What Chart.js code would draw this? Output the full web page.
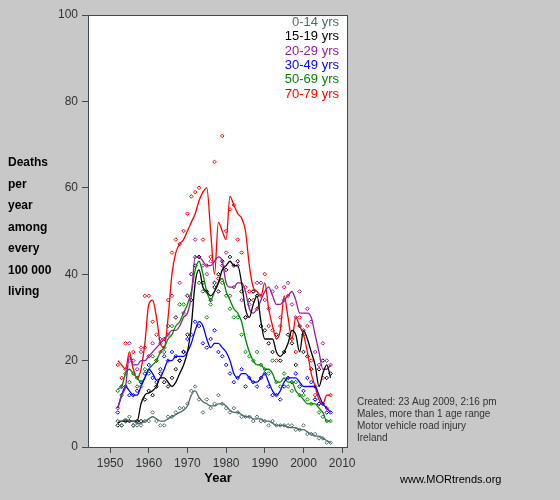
<!DOCTYPE html><html><head><script src="https://cdn.jsdelivr.net/npm/chart.js@4"></script>
<style>html,body{margin:0;background:#c8c8c8}#w{width:560px;height:500px}</style></head><body><div id="w"><canvas id="c"></canvas></div>
<script>
const years=[];for(let y=1952;y<=2007;y++)years.push(y);
const labels=['0-14 yrs','15-19 yrs','20-29 yrs','30-49 yrs','50-69 yrs','70-79 yrs'];
const colors=['#4f6b6b','#000000','#9a1a9a','#0000ff','#008800','#ff0000'];
const line0_14=[6,6,6.5,6,6,5.5,5.5,6,6.5,7,6.5,6,6,6.5,7,7.5,8,8.5,9.5,12,13,11.5,10.5,10,9.5,9.5,10,10,9.5,8.5,8,8,7.5,7,7,6.5,6.5,6.5,6,6,5.5,5,5,5,4.5,4.5,4.5,4,4,3.5,3,2.5,2.5,2,1.5,1];
const line15_19=[5.5,6,6,6,6,6,10,12,12.5,13,14,16,16,15,14,15,17,19,22,28,38,41,37,36,35,36,38,41,42,43,42,42,38,32,30,33,35,29,25,25,25,22,21,22,24,27,26,22,27,25,22,19,14,17,19,16];
const line20_29=[9,12,14,21,19,19,20,20,21,22,23,24,25,26,27,27,28,30,31,35,44,44,43,42,42,43,44,43,38,37,37,38,38,36,32,31,32,34,36,37,35,33,33,34,35,36,34,31,31,31,30,26,22,18,18,19];
const line30_49=[9,12,14,13,12,12,14,16,18,17,15.5,16,18,20,20,21,21,21,22,24,27,29,28,25,23,24,24,23,22,20,17,16,17,17,16,15,15,16,17,15,13,12,13,15,16,16,16,15,14,14,14,14,12,10,9,8];
const line50_69=[13.5,14,17,18,17,16,15,16,18,19,20,22,23,25,26,28,29,31,33,36,41,43,40,36,34,36,38,39,36,34,32,31,29,25,22,20,19,19,18,18,17,15,15,16,15,15,13,12,11,10,10,10,9,8,6,6];
const line70_79=[20,19,18,22,18,16,18,24,33,34,30,24,23,30,40,45,47,48,50,52,54,57,59,60,50,40,52,50,48,58,56,54,53,50,42,37,36,35,38,32,28,25,27,35,30,25,30,28,26,22,17,14,11,10,12,12];
const pts0_14=[6,5,6,7,5,5,5,6,6,8,6,5,5,7,7,8,9,9,10,13,14,11,8,11,9,10,12,10,9,8,9,8,7,7,7,6,7,6,6,5,6,5,5,5,5,5,4,4,5,3,3,3,2,2,1,1];
const pts15_19=[5,5,6,6,5,6,6,11,13,12,14,17,15,14,16,18,20,22,26,34,42,44,38,36,34,37,40,43,41,44,42,43,36,30,34,36,35,28,27,24,22,26,20,22,26,24,19,28,22,21,18,14,18,20,16,17];
const pts20_29=[9,14,18,24,20,18,22,23,21,24,26,25,23,28,35,30,38,31,35,40,48,44,42,40,43,38,36,42,45,35,37,42,34,30,33,36,38,38,34,32,36,37,28,34,38,33,30,36,27,32,29,22,19,24,20,19];
const pts30_49=[8,14,14,12,12,13,15,17,19,16,15,18,21,20,22,21,20,22,25,26,29,28,24,23,25,27,22,21,19,17,15,16,18,14,16,15,14,16,17,14,12,12,11,14,16,15,17,14,13,16,15,11,10,10,8,8];
const pts50_69=[13,12,17,15,17,16,14,18,17,21,20,24,22,26,28,30,33,33,35,40,44,38,36,30,33,38,36,38,35,32,30,30,26,22,21,20,22,19,18,17,20,15,14,17,14,13,15,12,12,11,10,11,8,7,6,6];
const pts70_79=[19,16,24,20,22,14,23,35,35,29,20,22,25,34,45,48,47,50,54,58,59,60,48,42,44,66,39,72,50,55,56,48,45,37,36,34,32,35,40,28,27,20,30,37,35,25,22,30,26,28,20,12,10,16,9,12];
const lines=[line0_14,line15_19,line20_29,line30_49,line50_69,line70_79];
const pts=[pts0_14,pts15_19,pts20_29,pts30_49,pts50_69,pts70_79];
const xTicks=[1950,1960,1970,1980,1990,2000,2010];
const yTicks=[0,20,40,60,80,100];
const datasets=[];
for(let i=0;i<6;i++){
 datasets.push({type:'scatter',data:years.map((y,j)=>({x:y,y:pts[i][j]})),pointStyle:'rectRot',radius:1.8,borderWidth:1,borderColor:colors[i],backgroundColor:'rgba(0,0,0,0)',order:2});
 datasets.push({type:'line',data:years.map((y,j)=>({x:y,y:lines[i][j]})),borderColor:colors[i],borderWidth:1.3,pointRadius:0,tension:0.4,cubicInterpolationMode:'monotone',fill:false,order:1});
}
const deco={id:'deco',beforeDraw(ch){const c=ch.ctx,a=ch.chartArea;c.save();c.fillStyle='#fff';c.fillRect(a.left,a.top,a.right-a.left,a.bottom-a.top);c.restore();},
afterDraw(ch){const c=ch.ctx,a=ch.chartArea;c.save();c.strokeStyle='#3c4c54';c.lineWidth=1;c.strokeRect(a.left+0.5,a.top+0.5,a.right-a.left-1,a.bottom-a.top);
c.font='13px Arial';c.textAlign='right';c.textBaseline='top';
labels.forEach((l,i)=>{c.fillStyle=colors[i];c.fillText(l,a.right-9,16+i*14.3);});
c.fillStyle='#000';c.font='bold 12px Arial';c.textAlign='left';
['Deaths','per','year','among','every','100 000','living'].forEach((t,i)=>c.fillText(t,8,157+i*21.5));
c.font='bold 13px Arial';c.textAlign='center';c.fillText('Year',218,472);
c.font='10px Arial';c.textAlign='left';c.fillStyle='#333';
['Created: 23 Aug 2009, 2:16 pm','Males, more than 1 age range','Motor vehicle road injury','Ireland'].forEach((t,i)=>c.fillText(t,357,397+i*12));
c.font='11px Arial';c.fillStyle='#000';c.fillText('www.MORtrends.org',400,474);
c.restore();}};
new Chart(document.getElementById('c'),{data:{datasets},plugins:[deco],options:{responsive:true,maintainAspectRatio:false,animation:false,
layout:{padding:{top:15,right:212,left:0,bottom:0}},
plugins:{legend:{display:false},tooltip:{enabled:false}},
scales:{x:{type:'linear',min:1944.3,max:2011.5,afterBuildTicks:s=>{s.ticks=xTicks.map(v=>({value:v}));},afterFit:s=>{s.height=53;},
 grid:{drawOnChartArea:false,tickLength:6,color:'#3c4c54'},border:{display:false},ticks:{color:'#333',font:{size:12,family:'Arial'},padding:3,callback:v=>String(v)}},
 y:{min:0,max:100,afterBuildTicks:s=>{s.ticks=yTicks.map(v=>({value:v}));},afterFit:s=>{s.width=88;},
 grid:{drawOnChartArea:false,tickLength:6,color:'#3c4c54'},border:{display:false},ticks:{color:'#333',font:{size:12,family:'Arial'},padding:4,callback:v=>String(v)}}}}});
</script></body></html>
